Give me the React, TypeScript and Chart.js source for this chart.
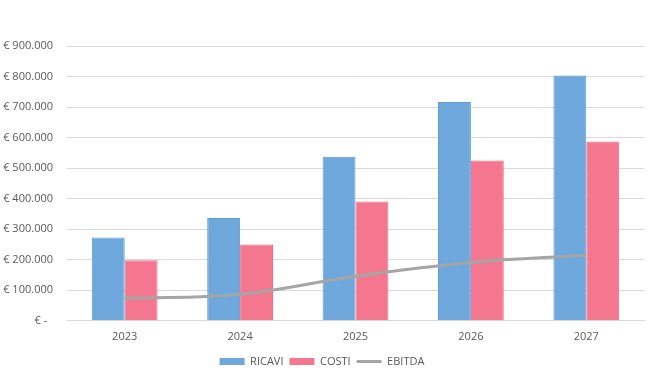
import React, { useEffect, useRef } from "react";
import { Chart, registerables } from "chart.js";

Chart.register(...registerables);

const categories = ["2023", "2024", "2025", "2026", "2027"];
const ricavi = [273000, 337000, 537000, 717000, 803000];
const costi = [198000, 250000, 391000, 525000, 587000];
const ebitda = [73000, 87000, 146000, 191000, 215000];
const yTicks = [0, 100000, 200000, 300000, 400000, 500000, 600000, 700000, 800000, 900000];

function fmtEuro(v: number): string {
  if (v === 0) return "€ -  ";
  return "€ " + v.toLocaleString("de-DE");
}

export default function App() {
  const ref = useRef<HTMLCanvasElement | null>(null);

  useEffect(() => {
    document.body.style.margin = "0";
    const ctx = ref.current!.getContext("2d")!;
    const font = "'Open Sans', 'Noto Sans', sans-serif";
    const chart = new Chart(ctx, {
      type: "bar",
      data: {
        labels: categories,
        datasets: [
          {
            label: "RICAVI",
            data: ricavi,
            backgroundColor: "#6fa8dc",
            borderColor: "#5b9bd5",
            borderWidth: 1,
            order: 2,
            categoryPercentage: 0.57,
            barPercentage: 1.0,
          },
          {
            label: "COSTI",
            data: costi,
            backgroundColor: "#f4778f",
            borderColor: "#f06a87",
            borderWidth: 1,
            order: 2,
            categoryPercentage: 0.57,
            barPercentage: 1.0,
          },
          {
            type: "line",
            label: "EBITDA",
            data: ebitda,
            borderColor: "#a5a5a5",
            backgroundColor: "#a5a5a5",
            borderWidth: 3,
            tension: 0.4,
            pointRadius: 0,
            order: 1,
          } as any,
        ],
      },
      options: {
        animation: false,
        responsive: false,
        maintainAspectRatio: false,
        layout: { padding: { top: 46, left: 0, right: 6, bottom: -3 } },
        plugins: {
          tooltip: { enabled: false },
          legend: {
            position: "bottom",
            labels: {
              usePointStyle: true,
              pointStyleWidth: 25,
              boxHeight: 7,
              padding: 6,
              color: "#595959",
              font: { family: font, size: 11 },
              sort: (a: any, b: any) => a.datasetIndex - b.datasetIndex,
              generateLabels: (c: any) => {
                const items = Chart.defaults.plugins.legend.labels.generateLabels(c);
                items.forEach((it: any) => {
                  if (it.datasetIndex === 2) {
                    it.pointStyle = "line";
                    it.lineWidth = 3;
                    it.strokeStyle = "#a5a5a5";
                  } else {
                    it.pointStyle = "rect";
                    it.lineWidth = 0;
                  }
                });
                return items;
              },
            },
          },
        },
        scales: {
          x: {
            afterFit: (s: any) => {
              s.height = s.height - 2;
            },
            grid: { display: false, drawTicks: false },
            border: { display: true, color: "#d9d9d9" },
            ticks: { color: "#595959", font: { family: font, size: 11 }, padding: 9 },
          },
          y: {
            min: 0,
            max: 900000,
            afterFit: (s: any) => {
              s.width = 67;
            },
            afterBuildTicks: (s: any) => {
              s.ticks = yTicks.map((v) => ({ value: v }));
            },
            grid: { color: "#d9d9d9", drawTicks: false, lineWidth: 1 },
            border: { display: false },
            ticks: {
              color: "#595959",
              font: { family: font, size: 11 },
              padding: 14,
              callback: (v: any) => fmtEuro(Number(v)),
            },
          },
        },
      },
    });
    return () => chart.destroy();
  }, []);

  return (
    <div style={{ position: "absolute", left: 0, top: 0, width: 650, height: 374 }}>
      <canvas ref={ref} width={650} height={374} style={{ width: 650, height: 374 }} />
    </div>
  );
}
